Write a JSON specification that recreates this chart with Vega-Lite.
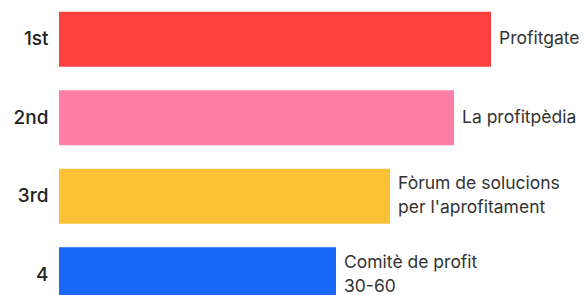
{
  "$schema": "https://vega.github.io/schema/vega-lite/v6.json",
  "width": 525,
  "height": 314,
  "autosize": {"type": "none"},
  "padding": {"left": 59, "top": 0, "right": 0, "bottom": 0},
  "background": "white",
  "config": {"view": {"stroke": null}},
  "data": {
    "values": [
      {"rank": "1st", "name": "Profitgate", "lines": 1, "value": 432, "color": "#FE413F"},
      {"rank": "2nd", "name": "La profitpèdia", "lines": 1, "value": 395, "color": "#FD7FA6"},
      {"rank": "3rd", "name": "Fòrum de solucions\nper l'aprofitament", "lines": 2, "value": 331, "color": "#FBC235"},
      {"rank": "4", "name": "Comitè de profit\n30-60", "lines": 2, "value": 277, "color": "#1B67FA"}
    ]
  },
  "encoding": {
    "y": {
      "field": "rank",
      "type": "nominal",
      "sort": null,
      "scale": {"paddingInner": 0.3, "paddingOuter": 0.15},
      "axis": {
        "title": null,
        "ticks": false,
        "domain": false,
        "labelPadding": 11,
        "labelFontSize": 19,
        "labelFont": "Inter",
        "labelFontWeight": 500,
        "labelColor": "#222222"
      }
    },
    "x": {
      "field": "value",
      "type": "quantitative",
      "scale": {"domain": [0, 525]},
      "axis": null
    }
  },
  "layer": [
    {
      "mark": {"type": "bar"},
      "encoding": {
        "color": {"field": "color", "type": "nominal", "scale": null}
      }
    },
    {
      "transform": [{"filter": {"field": "lines", "equal": 1}}],
      "mark": {
        "type": "text",
        "align": "left",
        "baseline": "middle",
        "dx": 8,
        "font": "Inter",
        "fontSize": 17.5,
        "color": "#333333"
      },
      "encoding": {"text": {"field": "name"}}
    },
    {
      "transform": [{"filter": {"field": "lines", "equal": 2}}],
      "mark": {
        "type": "text",
        "align": "left",
        "baseline": "middle",
        "dx": 8,
        "dy": -12,
        "font": "Inter",
        "fontSize": 17.5,
        "lineHeight": 24,
        "lineBreak": "\n",
        "color": "#333333"
      },
      "encoding": {"text": {"field": "name"}}
    }
  ]
}
